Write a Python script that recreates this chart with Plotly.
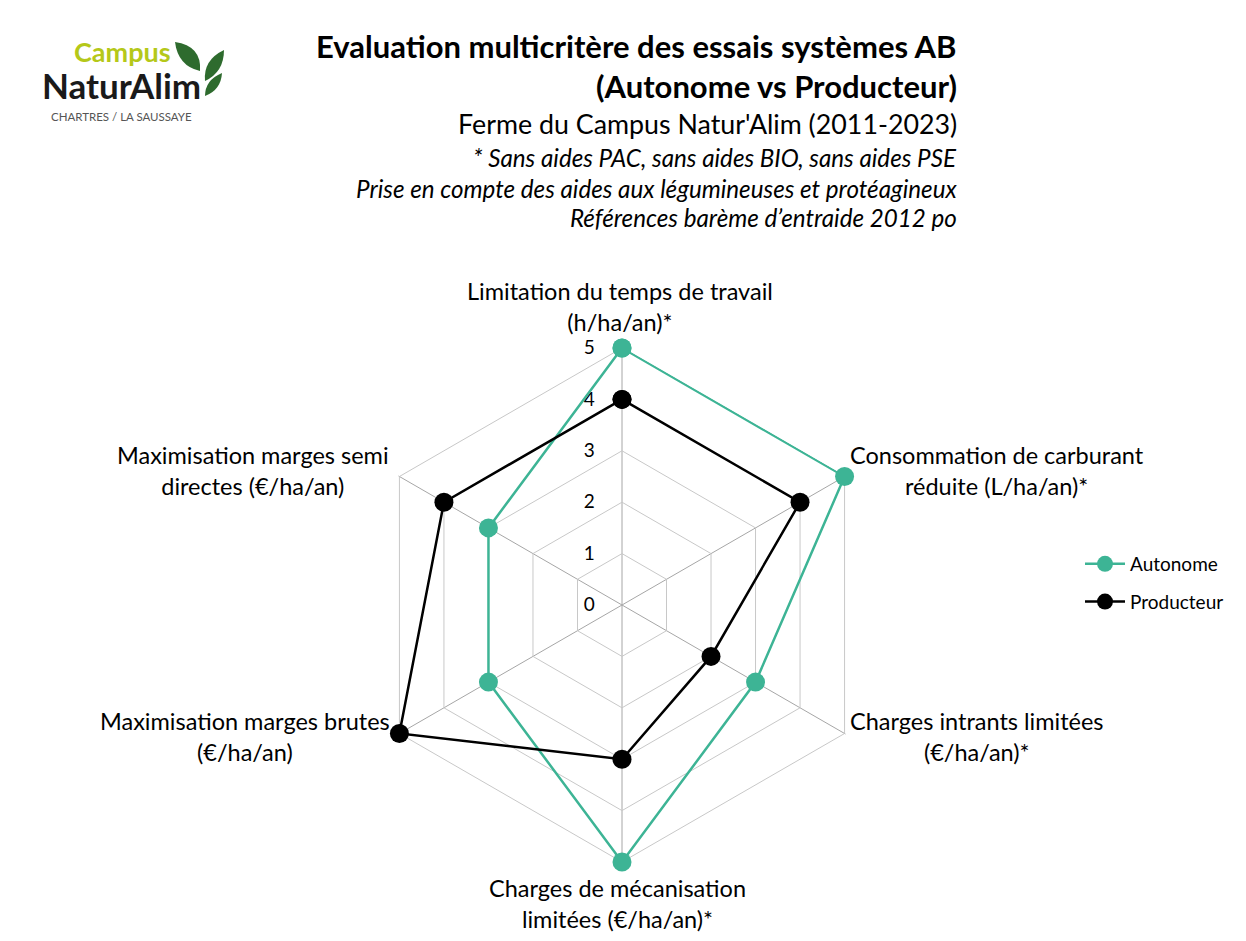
import plotly.graph_objects as go

categories = [
    "Limitation du temps de travail<br>(h/ha/an)*",
    "Consommation de carburant<br>réduite (L/ha/an)*",
    "Charges intrants limitées<br>(€/ha/an)*",
    "Charges de mécanisation<br>limitées (€/ha/an)*",
    "Maximisation marges brutes<br>(€/ha/an)",
    "Maximisation marges semi<br>directes (€/ha/an)",
]
autonome = [5, 5, 3, 5, 3, 3]
producteur = [4, 4, 2, 3, 5, 4]
radial_ticks = [0, 1, 2, 3, 4, 5]

TEAL = "#3DB495"
FONT = "Lato, 'Open Sans', sans-serif"
W, H = 1246, 941
RMAX = 5.02


def px(x, y):
    return x / W, 1 - y / H


fig = go.Figure()
for name, vals, col in [("Autonome", autonome, TEAL), ("Producteur", producteur, "#000000")]:
    fig.add_trace(go.Scatterpolar(
        r=vals + vals[:1], theta=categories + categories[:1], name=name, legendgroup=name,
        mode="lines+markers", line=dict(color=col, width=2.5), cliponaxis=False,
        marker=dict(color=col, size=19),
    ))

cx, cy = 622, 605
R = 257 * RMAX / 5
fig.update_layout(
    width=W, height=H, margin=dict(l=0, r=0, t=0, b=0),
    paper_bgcolor="white", plot_bgcolor="white",
    font=dict(family=FONT, color="#000000"),
    polar=dict(
        domain=dict(x=[(cx - R) / W, (cx + R) / W], y=[1 - (cy + R) / H, 1 - (cy - R) / H]),
        bgcolor="white", gridshape="linear",
        angularaxis=dict(rotation=90, direction="clockwise", showticklabels=False, ticks="",
                         showline=False, layer="below traces",
                         gridcolor="#A6A6A6", gridwidth=1),
        radialaxis=dict(range=[0, RMAX], tickvals=radial_ticks, angle=90, tickangle=90,
                        showline=False, ticks="outside", ticklen=20, tickcolor="rgba(0,0,0,0)",
                        gridcolor="#C8C8C8", gridwidth=1, layer="below traces",
                        tickfont=dict(size=19, color="#000000"), side="counterclockwise"),
    ),
    showlegend=True,
    legend=dict(x=1080 / W, y=1 - 545 / H, xanchor="left", yanchor="top",
                font=dict(size=19), itemwidth=40, tracegroupgap=10, bgcolor="rgba(0,0,0,0)"),
    xaxis=dict(visible=False), yaxis=dict(visible=False),
)

# category labels
label_pos = [(620, 306), (997, 470), (977, 736), (617, 903), (245, 736), (253, 470)]
for txt, (x, y) in zip(categories, label_pos):
    ax, ay = px(x, y)
    fig.add_annotation(x=ax, y=ay, xref="paper", yref="paper", text=txt,
                       showarrow=False, align="center", xanchor="center", yanchor="middle",
                       font=dict(size=23.5, family=FONT, color="#000000"))

# titles
titles = [
    ("<b>Evaluation multicritère des essais systèmes AB</b>", 46, 31),
    ("<b>(Autonome vs Producteur)</b>", 86, 31),
    ("Ferme du Campus Natur'Alim (2011-2023)", 124, 26.8),
    ("<i>* Sans aides PAC, sans aides BIO, sans aides PSE</i>", 158, 24.2),
    ("<i>Prise en compte des aides aux légumineuses et protéagineux</i>", 188, 24.2),
    ("<i>Références barème d’entraide 2012 po</i>", 218, 24.2),
]
for txt, y, s in titles:
    ax, ay = px(959, y)
    fig.add_annotation(x=ax, y=ay, xref="paper", yref="paper", text=txt,
                       showarrow=False, xanchor="right", yanchor="middle",
                       font=dict(size=s, family=FONT, color="#000000"))

# logo
logo = [
    ("<b>Campus</b>", 72, 52, 27, "#B5C819"),
    ("<b>NaturAlim</b>", 40, 85, 35, "#1A1A1A"),
    ("CHARTRES / LA SAUSSAYE", 49, 116, 11.5, "#555555"),
]
for txt, x, y, s, c in logo:
    ax, ay = px(x, y)
    fig.add_annotation(x=ax, y=ay, xref="paper", yref="paper", text=txt,
                       showarrow=False, xanchor="left", yanchor="middle",
                       font=dict(size=s, family=FONT, color=c))


def path_px(points):
    parts = []
    for cmd, *coords in points:
        vals = []
        for j in range(0, len(coords), 2):
            a, b = px(coords[j], coords[j + 1])
            vals.append(f"{a:.5f} {b:.5f}")
        parts.append(cmd + " " + " ".join(vals))
    return " ".join(parts) + " Z"


leaves = [
    [("M", 175, 42), ("Q", 202, 46, 200, 71), ("Q", 178, 66, 175, 42)],
    [("M", 224, 50), ("Q", 224, 72, 205, 81), ("Q", 203, 60, 224, 50)],
    [("M", 222, 73), ("Q", 221, 90, 205, 96), ("Q", 205, 80, 222, 73)],
]
for lf in leaves:
    fig.add_shape(type="path", path=path_px(lf), xref="paper", yref="paper",
                  fillcolor="#2E6B2E", line=dict(width=0))

fig.write_html("out.html", config={"displayModeBar": False},
               post_script="document.body.style.margin='0';document.body.style.padding='0';")
